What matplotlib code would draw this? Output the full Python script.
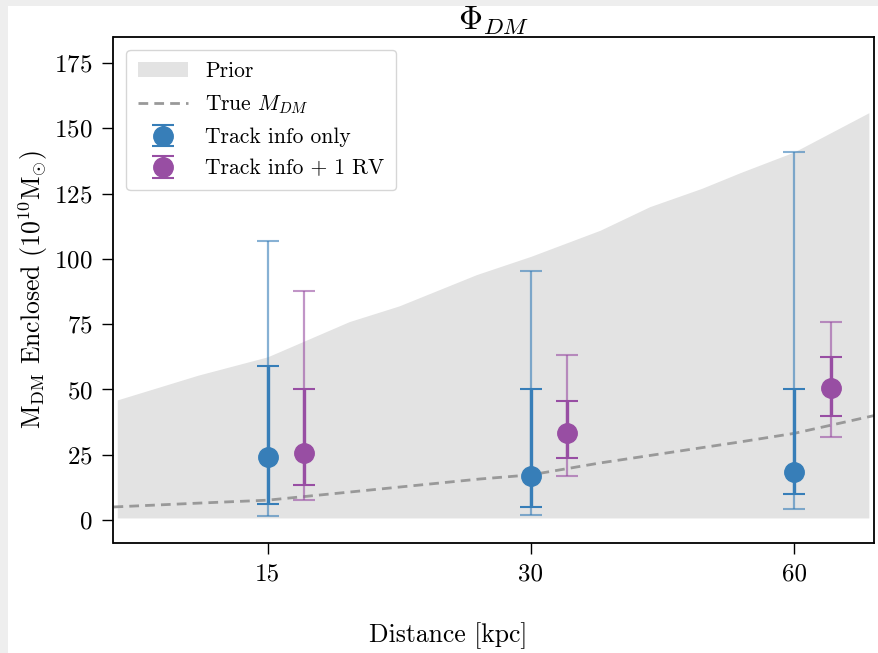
import matplotlib
matplotlib.use("Agg")
import matplotlib.pyplot as plt
from matplotlib.patches import Rectangle
from matplotlib.ticker import FixedLocator, NullLocator, FixedFormatter

plt.rcParams['font.family'] = ['cmr10', 'DejaVu Serif']
plt.rcParams['mathtext.fontset'] = 'cm'
plt.rcParams['axes.formatter.use_mathtext'] = True

# ---- data ----
grid_kpc = [10.1, 12.5, 15, 18.6, 21.2, 26, 30, 36, 41, 47, 52, 60, 73]
prior_upper = [46, 55.5, 62.5, 76, 82, 94, 101, 111, 120, 127, 133, 141, 156]
prior_lower = [0.8, 0.8, 0.8, 0.8, 0.8, 0.8, 0.8, 0.8, 0.8, 0.8, 0.8, 0.8, 0.8]
true_grid = [10, 12.56, 15, 18.6, 26.2, 30, 35.9, 52, 60, 74]
true_mdm = [5, 6.5, 7.6, 10.7, 15.7, 17.3, 21.8, 29.9, 33.2, 40]

distances = [15, 30, 60]
offset_factor = 1.1
track_center = [24.3, 16.9, 18.5]
track_inner_lo = [6.1, 5.1, 9.8]
track_inner_hi = [59.1, 50.0, 50.2]
track_outer_lo = [1.5, 1.9, 4.1]
track_outer_hi = [107, 95.5, 141]

rv_center = [25.5, 33.4, 50.7]
rv_inner_lo = [13.4, 23.6, 40.0]
rv_inner_hi = [50.0, 45.7, 62.6]
rv_outer_lo = [7.7, 17.0, 31.7]
rv_outer_hi = [87.8, 63.2, 75.7]

xticks = [15, 30, 60]
xtick_labels = ['15', '30', '60']

blue = '#377eb8'
purple = '#984ea3'

fig = plt.figure(figsize=(8.79, 6.53), dpi=100)
fig.patch.set_facecolor('white')
fig.add_artist(Rectangle((0, 1 - 6 / 653), 1, 6 / 653, transform=fig.transFigure,
                         facecolor='#eeeeee', edgecolor='none', zorder=-10))
fig.add_artist(Rectangle((0, 0), 8 / 879, 1, transform=fig.transFigure,
                         facecolor='#eeeeee', edgecolor='none', zorder=-10))

ax = fig.add_axes([113.5 / 879, 1 - 543 / 653, (874 - 113.5) / 879, (543 - 37) / 653])
ax.set_xscale('log')

ax.fill_between(grid_kpc, prior_lower, prior_upper, color='#e3e3e3', linewidth=0,
                label='Prior', zorder=1)
ax.plot(true_grid, true_mdm, ls=(0, (3.5, 2.2)), color='#999999', lw=2,
        label=r'True $M_{DM}$', zorder=2)


def draw(xs, c, ilo, ihi, olo, ohi, color, label):
    yerr_o = [[ci - l for ci, l in zip(c, olo)], [h - ci for ci, h in zip(c, ohi)]]
    yerr_i = [[ci - l for ci, l in zip(c, ilo)], [h - ci for ci, h in zip(c, ihi)]]
    ax.errorbar(xs, c, yerr=yerr_o, fmt='none', ecolor=color, alpha=0.6,
                elinewidth=1.6, capsize=8, capthick=1.5, zorder=3)
    ax.errorbar(xs, c, yerr=yerr_i, fmt='o', color=color, ecolor=color,
                elinewidth=2.4, capsize=8, capthick=1.5, markersize=14,
                label=label, zorder=4)


draw(distances, track_center, track_inner_lo, track_inner_hi,
     track_outer_lo, track_outer_hi, blue, 'Track info only')
draw([d * offset_factor for d in distances], rv_center, rv_inner_lo, rv_inner_hi,
     rv_outer_lo, rv_outer_hi, purple, 'Track info + 1 RV')

ax.set_xlim(10, 74)
ax.set_ylim(-8.8, 185)
ax.xaxis.set_major_locator(FixedLocator(xticks))
ax.xaxis.set_major_formatter(FixedFormatter(xtick_labels))
ax.xaxis.set_minor_locator(NullLocator())
ax.set_yticks([0, 25, 50, 75, 100, 125, 150, 175])
ax.tick_params(axis='both', labelsize=18, length=8, width=1, pad=7)
for s in ax.spines.values():
    s.set_linewidth(1.3)

ax.set_title(r'$\Phi_{DM}$', fontsize=24, pad=4)
ax.set_ylabel(r'$\mathrm{M_{DM}}$ Enclosed $(10^{10}\mathrm{M}_{\odot})$', fontsize=18.5, labelpad=3)
fig.text(448 / 879, 1 - 636 / 653, 'Distance [kpc]', ha='center', va='center', fontsize=18.5)

leg = ax.legend(loc='upper left', fontsize=15.5, handlelength=2.3, frameon=True,
                fancybox=True, edgecolor='#cccccc', borderpad=0.55, labelspacing=0.55,
                borderaxespad=0.6)
leg.get_frame().set_linewidth(1.0)

fig.savefig('out.png', dpi=100)
